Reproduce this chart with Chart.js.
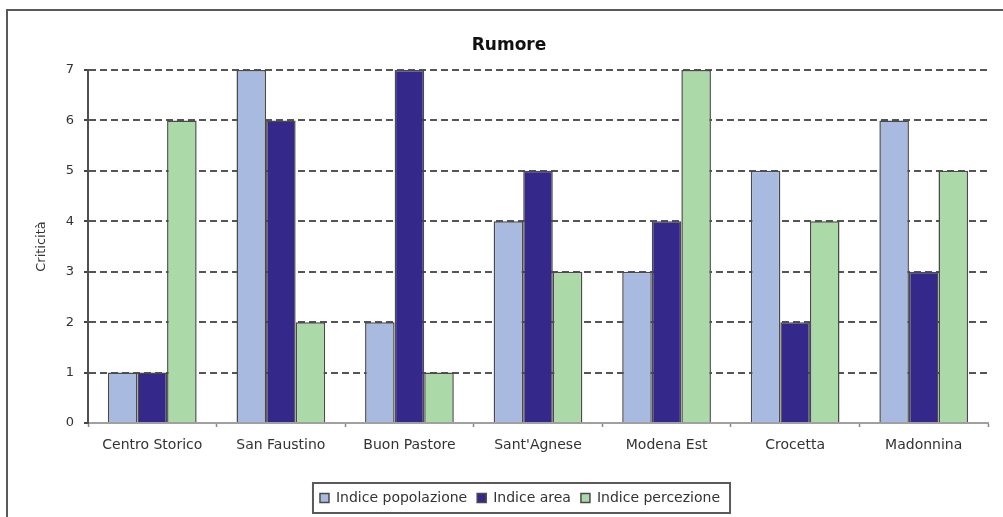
<!DOCTYPE html>
<html>
<head>
<meta charset="utf-8">
<script src="https://cdn.jsdelivr.net/npm/chart.js@4/dist/chart.umd.min.js"></script>
<style>
  html, body { margin: 0; padding: 0; background: #fff; }
  canvas { display: block; }
</style>
</head>
<body>
<canvas id="c" width="1003" height="517"></canvas>
<script>
// Districts and noise criticality indices
const categories = ['Centro Storico', 'San Faustino', 'Buon Pastore', "Sant'Agnese", 'Modena Est', 'Crocetta', 'Madonnina'];
const indicePopolazione = [1, 7, 2, 4, 3, 5, 6];
const indiceArea = [1, 6, 7, 5, 4, 2, 3];
const indicePercezione = [6, 2, 1, 3, 7, 4, 5];
const yTickValues = [0, 1, 2, 3, 4, 5, 6, 7];

const seriesNames = ['Indice popolazione', 'Indice area', 'Indice percezione'];
const seriesColors = ['#a8badf', '#35288b', '#acd9a8'];

Chart.defaults.font.family = "'DejaVu Sans', 'Liberation Sans', sans-serif";
Chart.defaults.color = '#333';

// Frame around the whole chart, title/legend placement, and legend outline
const decor = {
  id: 'decor',
  afterUpdate(chart) {
    const t = chart.titleBlock;
    if (t) {
      const dt = 509 - (t.left + t.right) / 2;
      t.left += dt; t.right += dt;
    }
    const lg = chart.legend;
    if (lg) {
      const dl = 520 - (lg.left + lg.right) / 2;
      lg.left += dl; lg.right += dl;
      (lg.legendHitBoxes || []).forEach(h => { h.left += dl; });
    }
  },
  beforeDraw(chart) {
    const ctx = chart.ctx;
    ctx.save();
    ctx.fillStyle = '#fff';
    ctx.fillRect(0, 0, chart.width, chart.height);
    ctx.strokeStyle = '#5a5a5a';
    ctx.lineWidth = 2;
    ctx.strokeRect(7, 10, chart.width + 20, chart.height + 20);
    ctx.restore();
  },
  afterDraw(chart) {
    const hb = chart.legend && chart.legend.legendHitBoxes;
    if (!hb || !hb.length) return;
    const first = hb[0], last = hb[hb.length - 1];
    const x0 = first.left - 7;
    const x1 = last.left + last.width + 10;
    const cy = first.top + first.height / 2;
    const ctx = chart.ctx;
    ctx.save();
    ctx.strokeStyle = '#5a5a5a';
    ctx.lineWidth = 2;
    ctx.strokeRect(x0, cy - 15, x1 - x0, 30);
    ctx.restore();
  }
};

const seriesData = [indicePopolazione, indiceArea, indicePercezione];

new Chart(document.getElementById('c'), {
  type: 'bar',
  data: {
    labels: categories,
    datasets: seriesData.map((d, i) => ({
      label: seriesNames[i],
      data: d,
      backgroundColor: seriesColors[i],
      borderColor: '#4a4a4a',
      borderWidth: 1.5,
      categoryPercentage: 0.69,
      barPercentage: 1.0
    }))
  },
  options: {
    responsive: false,
    animation: false,
    layout: { padding: { left: 7, right: 15, top: 10, bottom: 2 } },
    plugins: {
      title: {
        display: true,
        text: 'Rumore',
        color: '#111',
        font: { size: 17, weight: 'bold' },
        padding: { top: 25, bottom: 14.6 }
      },
      legend: {
        display: true,
        position: 'bottom',
        labels: {
          boxWidth: 9,
          boxHeight: 9,
          padding: 10,
          color: '#333',
          font: { size: 14 }
        }
      },
      tooltip: { enabled: false }
    },
    scales: {
      x: {
        grid: {
          display: true,
          drawOnChartArea: false,
          drawTicks: true,
          tickLength: 4,
          tickColor: '#888',
          tickWidth: 1.5
        },
        border: { display: true, color: '#a0a0a0', width: 2 },
        ticks: { color: '#333', font: { size: 14 }, padding: 10, maxRotation: 0 },
        afterFit(scale) { scale.height = 58; }
      },
      y: {
        min: 0,
        max: 7,
        afterBuildTicks(scale) { scale.ticks = yTickValues.map(v => ({ value: v })); },
        grid: {
          color: ctx => (ctx.tick && ctx.tick.value === 0) ? 'rgba(0,0,0,0)' : '#555',
          lineWidth: 2,
          drawTicks: true,
          tickLength: 4,
          tickColor: '#444',
          tickWidth: 2,
          tickBorderDash: []
        },
        border: { display: true, color: '#505050', width: 2, dash: [7, 4] },
        ticks: { color: '#333', font: { size: 13 }, padding: 10 },
        title: {
          display: true,
          text: 'Criticità',
          color: '#333',
          font: { size: 13 },
          padding: { top: 27, bottom: 0 }
        },
        afterFit(scale) { scale.width = 81; }
      }
    }
  },
  plugins: [decor]
});
</script>
</body>
</html>
